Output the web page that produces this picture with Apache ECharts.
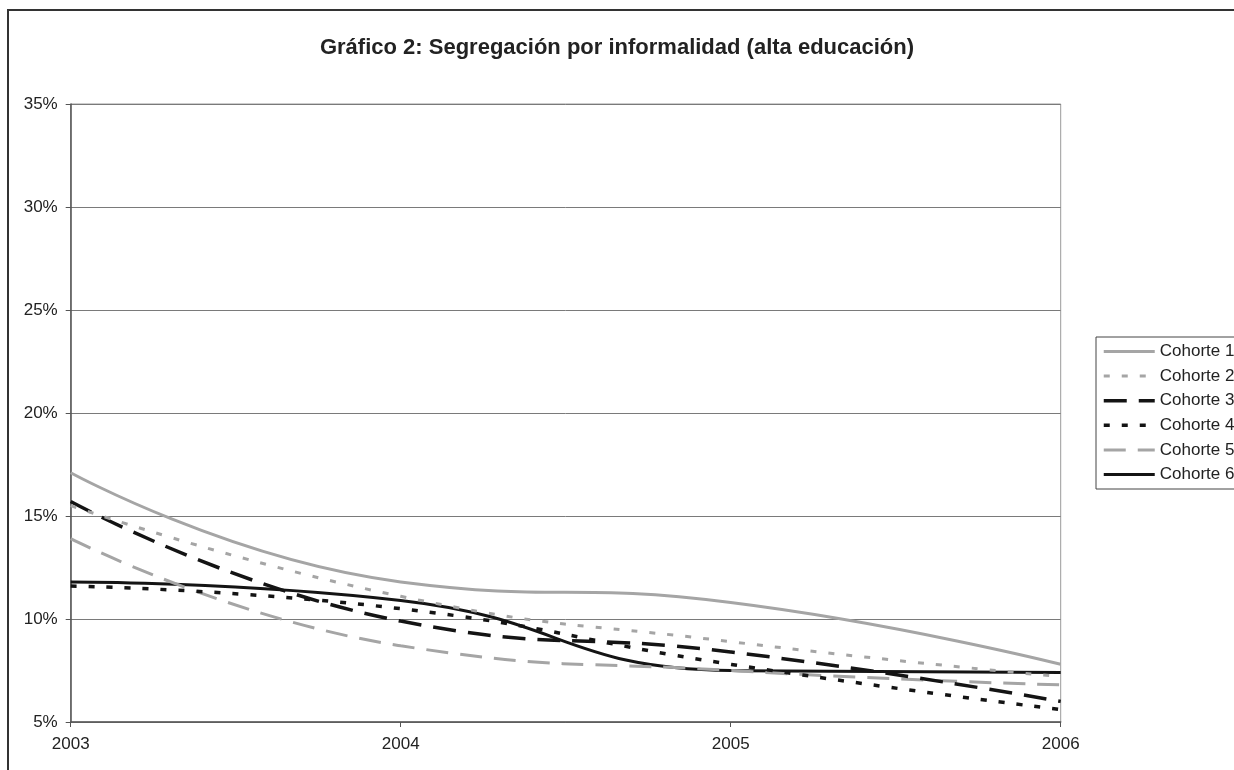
<!DOCTYPE html>
<html>
<head>
<meta charset="utf-8">
<script src="https://cdn.jsdelivr.net/npm/echarts@6/dist/echarts.min.js"></script>
<style>
  html, body { margin: 0; padding: 0; background: #fff; }
  #chart { width: 1234px; height: 770px; }
</style>
</head>
<body>
<div id="chart"></div>
<script>
// Years on the horizontal axis
const years = ['2003', '2004', '2005', '2006'];

// Segregation index (%) by cohort
const cohorte1 = [17.1, 11.8, 10.8, 7.8];
const cohorte2 = [15.5, 11.1, 8.9, 7.2];
const cohorte3 = [15.7, 9.9, 8.4, 6.0];
const cohorte4 = [11.6, 10.5, 7.8, 5.6];
const cohorte5 = [13.9, 8.7, 7.5, 6.8];
const cohorte6 = [11.8, 10.9, 7.5, 7.4];

const seriesNames = ['Cohorte 1', 'Cohorte 2', 'Cohorte 3', 'Cohorte 4', 'Cohorte 5', 'Cohorte 6'];

const GRAY = '#a5a5a5';
const BLACK = '#141414';
const FONT = '"Liberation Sans", Arial, sans-serif';

const styles = [
  { color: GRAY, width: 3, type: 'solid' },
  { color: GRAY, width: 3, type: [6, 12] },
  { color: BLACK, width: 3.5, type: [23, 12] },
  { color: BLACK, width: 3.5, type: [6, 12] },
  { color: GRAY, width: 3, type: [22, 12] },
  { color: BLACK, width: 3, type: 'solid' }
];

const values = [cohorte1, cohorte2, cohorte3, cohorte4, cohorte5, cohorte6];

const chart = echarts.init(document.getElementById('chart'), null, { renderer: 'canvas' });

chart.setOption({
  animation: false,
  backgroundColor: '#ffffff',
  title: {
    text: 'Gráfico 2: Segregación por informalidad (alta educación)',
    left: 'center',
    top: 37,
    padding: 0,
    textStyle: { fontFamily: FONT, fontSize: 22, fontWeight: 'bold', color: '#222' }
  },
  graphic: [{
    type: 'rect',
    silent: true,
    shape: { x: 8, y: 10, width: 1400, height: 900 },
    style: { fill: 'none', stroke: '#333', lineWidth: 2 }
  }],
  legend: {
    orient: 'vertical',
    left: 1096,
    top: 337,
    padding: [6, 14, 6, 6],
    itemWidth: 51,
    itemHeight: 14,
    itemGap: 7.6,
    borderColor: '#444',
    borderWidth: 1,
    backgroundColor: '#fff',
    // line samples only, no marker dot, same stroke width as the series
    itemStyle: { opacity: 0 },
    lineStyle: { width: 'inherit' },
    textStyle: { fontFamily: FONT, fontSize: 17, color: '#222', lineHeight: 17 },
    data: seriesNames
  },
  grid: {
    left: 70.7,
    right: 173.3,
    top: 104,
    bottom: 48,
    show: true,
    borderColor: '#9a9a9a',
    borderWidth: 1
  },
  xAxis: {
    type: 'category',
    data: years,
    boundaryGap: false,
    axisLine: { lineStyle: { color: '#555', width: 1.5 } },
    axisTick: { show: true, length: 5, lineStyle: { color: '#555' } },
    axisLabel: { fontFamily: FONT, fontSize: 17, color: '#222', margin: 14 },
    splitLine: { show: false }
  },
  yAxis: {
    type: 'value',
    min: 5,
    max: 35,
    interval: 5,
    axisLine: { show: true, lineStyle: { color: '#555', width: 1.5 } },
    axisTick: { show: true, length: 5, lineStyle: { color: '#555' } },
    axisLabel: { fontFamily: FONT, fontSize: 17, color: '#222', margin: 13, formatter: '{value}%' },
    splitLine: { show: true, lineStyle: { color: '#7a7a7a', width: 1 } }
  },
  series: values.map((v, i) => ({
    name: seriesNames[i],
    type: 'line',
    data: v,
    smooth: 0.5,
    symbol: 'none',
    color: styles[i].color,
    lineStyle: { color: styles[i].color, width: styles[i].width, type: styles[i].type, cap: 'butt' },
    z: 10 - i
  }))
});
</script>
</body>
</html>
